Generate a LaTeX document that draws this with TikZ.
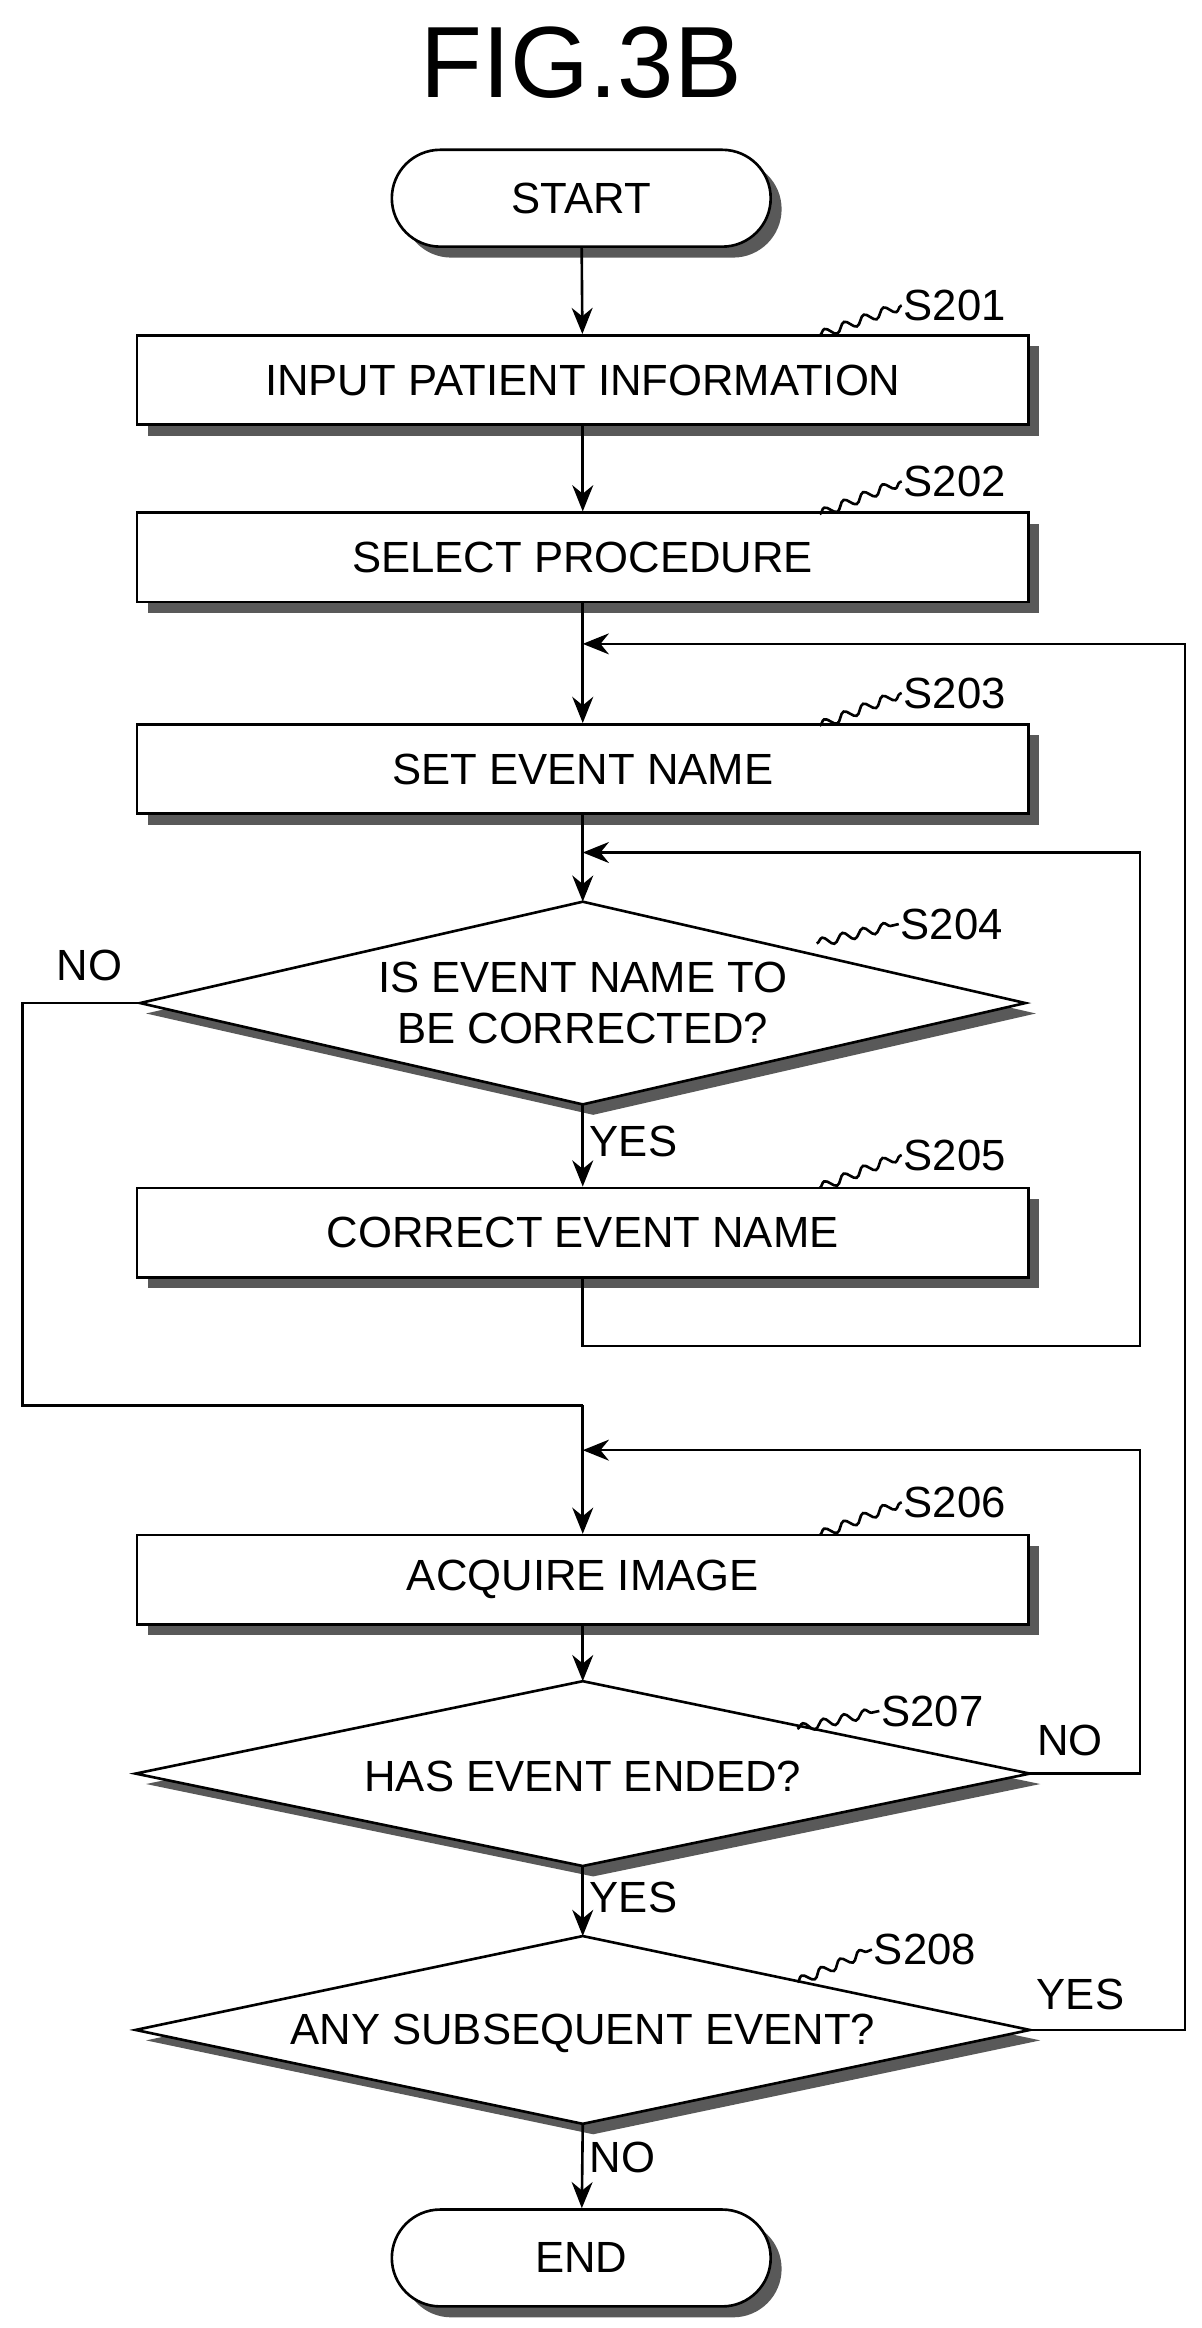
\documentclass[tikz,border=0pt]{standalone}
\usepackage{fontspec}
\setmainfont{Liberation Sans}
\usetikzlibrary{shapes.misc,shadows,arrows.meta,decorations.pathmorphing}
\begin{document}
\begin{tikzpicture}[x=0.03cm,y=-0.03cm,
  lw/.style={line width=1.5pt},
  shd/.style={drop shadow={shadow xshift=0.22cm,shadow yshift=-0.22cm,fill=black!65,opacity=1}},
  txt/.style={font=\fontsize{25}{29}\selectfont},
  box/.style={draw,lw,fill=white,shd,txt,minimum width=17.94cm,minimum height=1.8cm},
  term/.style={draw,lw,fill=white,shd,txt,rounded rectangle,minimum width=7.86cm,minimum height=1.95cm},
  arr/.style={lw,-{Stealth[length=15pt,width=12pt]}},
  ln/.style={lw},
  sq/.style={lw,decorate,decoration={snake,amplitude=2.5pt,segment length=12pt}},
  lab/.style={txt,anchor=west,inner sep=1pt}]
\useasboundingbox (0,0) rectangle (806,1562);
\node[font=\fontsize{58}{62}\selectfont] (title) at (390,42) {FIG.3B};
\node[term] (start) at (390,133) {START};
\node[box] (s201) at (391,255) {INPUT PATIENT INFORMATION};
\node[box] (s202) at (391,374) {SELECT PROCEDURE};
\node[box] (s203) at (391,516) {SET EVENT NAME};
\node[box] (s205) at (391,827) {CORRECT EVENT NAME};
\node[box] (s206) at (391,1060) {ACQUIRE IMAGE};
\node[term] (end) at (390,1515) {END};
% diamonds
\foreach \n/\cy/\hw/\hh in {d204/673/297/68, d207/1190/300/62, d208/1362/300/63}{
  \fill[black!65] (91+7,\cy+7) -- (391+7,\cy-\hh+7) -- (391+\hw+7,\cy+7) -- (391+7,\cy+\hh+7) -- cycle;
  \draw[lw,fill=white] (391-\hw,\cy) coordinate (\n-w) -- (391,\cy-\hh) coordinate (\n-n) -- (391+\hw,\cy) coordinate (\n-e) -- (391,\cy+\hh) coordinate (\n-s) -- cycle;
}
\node[txt,align=center] (t204) at (391,673) {IS EVENT NAME TO\\BE CORRECTED?};
\node[txt] (t207) at (391,1192) {HAS EVENT ENDED?};
\node[txt] (t208) at (391,1364) {ANY SUBSEQUENT EVENT?};
% junctions
\coordinate (j1) at (391,432);
\coordinate (j2) at (391,572);
\coordinate (j3) at (391,973);
% connectors
\draw[arr] (start) -- (s201);
\draw[arr] (s201) -- (s202);
\draw[arr] (s202) -- (s203);
\draw[arr] (s203) -- (d204-n);
\draw[arr] (d204-s) -- node[txt,right,pos=0.45] (yes1) {YES} (s205);
\draw[arr] (s205.south) -- (391,903) -- (765,903) -- (765,572) -- (j2);
\draw[ln] (d204-w) -- (15,673) -- (15,943) -- (391,943);
\node[txt] (no1) at (60,648) {NO};
\draw[arr] (391,943) -- (s206);
\draw[arr] (s206) -- (d207-n);
\draw[arr] (d207-e) -- (765,1190) -- (765,973) -- (j3);
\node[txt] (no2) at (718,1168) {NO};
\draw[arr] (d207-s) -- node[txt,right,pos=0.45] (yes2) {YES} (d208-n);
\draw[arr] (d208-e) -- (795,1362) -- (795,432) -- (j1);
\node[txt] (yes3) at (725,1338) {YES};
\draw[arr] (d208-s) -- node[txt,right,pos=0.4] (no3) {NO} (end);
% step labels
\foreach \n/\x/\y/\ex/\ey in {201/550/225/605/205, 202/550/345/605/323, 203/550/487/605/465,
  204/548/633/603/620, 205/550/797/605/775, 206/550/1030/605/1008, 207/535/1160/590/1148, 208/535/1330/585/1308}{
  \draw[sq] (\x,\y) -- (\ex,\ey);
  \node[lab] (l\n) at (\ex,\ey) {S\n};
}
\end{tikzpicture}
\end{document}
